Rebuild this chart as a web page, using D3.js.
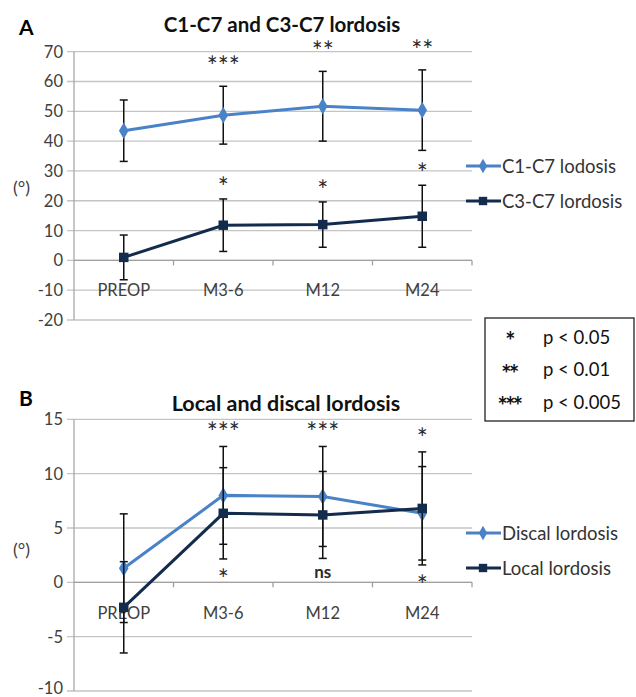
<html>
    <head>
        <title>Lordosis chart</title>
        <style>
            body {
                margin: 0;
                background-color: white;
            }
            text {
                font-family: Lato, "Open Sans", sans-serif;
                fill: #404040;
            }
        </style>
    </head>
    <body>
        <script src="https://d3js.org/d3.v7.min.js"></script>
        <script>

            // --- data ---
            const CATEGORIES = ["PREOP", "M3-6", "M12", "M24"];

            const C1C7_MEAN = [43.5, 48.7, 51.7, 50.4];
            const C1C7_SD = [10.3, 9.7, 11.7, 13.5];
            const C3C7_MEAN = [1.0, 11.8, 12.0, 14.8];
            const C3C7_SD = [7.5, 8.8, 7.6, 10.4];

            const DISCAL_MEAN = [1.3, 8.0, 7.9, 6.35];
            const DISCAL_SD = [5.0, 4.5, 4.6, 4.3];
            const LOCAL_MEAN = [-2.3, 6.35, 6.2, 6.8];
            const LOCAL_SD = [4.2, 4.2, 4.0, 5.2];

            const SIG_A_UPPER = ["", "***", "**", "**"];
            const SIG_A_LOWER = ["", "*", "*", "*"];
            const SIG_B_UPPER = ["", "***", "***", "*"];
            const SIG_B_LOWER = ["", "*", "ns", "*"];

            const P_SYMBOLS = ["*", "**", "***"];
            const P_TEXTS = ["p < 0.05", "p < 0.01", "p < 0.005"];

            const LIGHT = "#4a82c8";
            const DARK = "#132c4d";
            const STAR_FONT = "DejaVu Sans, sans-serif";

            const svg = d3.select("body").append("svg")
                .attr("width", 636).attr("height", 697);
            svg.append("rect").attr("width", 636).attr("height", 697).attr("fill", "white");

            function starCenterShift(label, fs) {
                // distance from baseline to visual centre of the glyphs
                return label === "ns" ? 0.27 * fs : 0.57 * fs;
            }

            function drawPanel(p) {
                const g = svg.append("g");
                const x = d3.scaleBand().domain(CATEGORIES).range([p.left, p.right]);
                const y = d3.scaleLinear().domain(p.domain).range([p.bottom, p.top]);
                const ticks = d3.range(p.domain[0], p.domain[1] + 0.001, p.step);

                // gridlines + left ticks
                g.selectAll("line.grid").data(ticks).join("line")
                    .attr("x1", p.left - 7).attr("x2", p.right)
                    .attr("y1", d => y(d)).attr("y2", d => y(d))
                    .attr("stroke", "#c4c4c4").attr("stroke-width", 1.3);
                g.append("line")
                    .attr("x1", p.left).attr("x2", p.left)
                    .attr("y1", y(p.domain[0])).attr("y2", y(p.domain[1]))
                    .attr("stroke", "#a8a8a8").attr("stroke-width", 1.3);
                g.selectAll("text.ytick").data(ticks).join("text")
                    .attr("x", p.left - 11).attr("y", d => y(d))
                    .attr("dy", (d, i) => i === 0 && p.clipBottom ? "0.2em" : "0.36em")
                    .attr("text-anchor", "end")
                    .attr("font-size", 16.5)
                    .text(d => d);

                // category axis at zero
                g.append("line")
                    .attr("x1", p.left).attr("x2", p.right)
                    .attr("y1", y(0)).attr("y2", y(0))
                    .attr("stroke", "#a0a0a0").attr("stroke-width", 1.3);
                g.selectAll("line.xtick").data(CATEGORIES).join("line")
                    .attr("x1", (d, i) => p.left + x.step() * (i + 1))
                    .attr("x2", (d, i) => p.left + x.step() * (i + 1))
                    .attr("y1", y(0)).attr("y2", y(0) + 5)
                    .attr("stroke", "#a0a0a0").attr("stroke-width", 1.3);
                g.selectAll("text.xlab").data(CATEGORIES).join("text")
                    .attr("x", d => x(d) + x.bandwidth() / 2)
                    .attr("y", p.catY)
                    .attr("dy", "0.36em")
                    .attr("text-anchor", "middle")
                    .attr("font-size", 16.5)
                    .text(d => d);

                // series
                p.series.forEach(s => {
                    const pts = CATEGORIES.map((c, i) => ({ c: c, m: s.mean[i], e: s.sd[i] }));
                    g.append("path")
                        .datum(pts)
                        .attr("fill", "none")
                        .attr("stroke", s.color)
                        .attr("stroke-width", 3)
                        .attr("d", d3.line().x(d => x(d.c) + x.bandwidth() / 2).y(d => y(d.m)));
                    const eb = g.append("g").attr("stroke", "#111").attr("stroke-width", 1.5);
                    pts.forEach(d => {
                        const cx = x(d.c) + x.bandwidth() / 2;
                        eb.append("line").attr("x1", cx).attr("x2", cx)
                            .attr("y1", y(d.m + d.e)).attr("y2", y(d.m - d.e));
                        [d.m + d.e, d.m - d.e].forEach(v => {
                            eb.append("line").attr("x1", cx - 4).attr("x2", cx + 4)
                                .attr("y1", y(v)).attr("y2", y(v));
                        });
                    });
                    g.selectAll(null).data(pts).join("path")
                        .attr("transform", d => "translate(" + (x(d.c) + x.bandwidth() / 2) + "," + y(d.m) + ")")
                        .attr("d", d3.symbol().type(s.marker).size(s.marker === d3.symbolSquare ? 90 : 80))
                        .attr("fill", s.color);
                });

                // significance marks
                p.sig.forEach(row => {
                    row.labels.forEach((lab, i) => {
                        if (!lab) return;
                        let py;
                        if (row.side === "above") {
                            py = d3.min(row.series, s => y(s.mean[i] + s.sd[i])) - row.offset;
                        } else {
                            py = d3.max(row.series, s => y(s.mean[i] - s.sd[i])) + row.offset;
                        }
                        const isNs = lab === "ns";
                        const fs = isNs ? 17 : 26;
                        g.append("text")
                            .attr("x", x(CATEGORIES[i]) + x.bandwidth() / 2)
                            .attr("y", py + starCenterShift(lab, fs))
                            .attr("text-anchor", "middle")
                            .attr("font-family", isNs ? null : STAR_FONT)
                            .attr("font-size", fs)
                            .attr("font-weight", isNs ? "bold" : "normal")
                            .style("fill", "#2a2a2a")
                            .text(lab);
                    });
                });

                // titles
                g.append("text").attr("x", p.titleX).attr("y", p.titleY)
                    .attr("text-anchor", "middle").attr("font-size", p.titleSize).attr("font-weight", "bold")
                    .style("fill", "#111").text(p.title);
                g.append("text").attr("x", 19).attr("y", p.letterY)
                    .attr("font-family", "Liberation Sans, Arial, sans-serif")
                    .attr("font-size", 21).attr("font-weight", "bold")
                    .style("fill", "#000").text(p.letter);
                g.append("text").attr("x", 13).attr("y", p.unitY).attr("dy", "0.36em")
                    .attr("font-size", 18).text("(°)");

                // legend
                p.series.forEach((s, i) => {
                    const ly = p.legendY[i];
                    g.append("line").attr("x1", 466).attr("x2", 501)
                        .attr("y1", ly).attr("y2", ly)
                        .attr("stroke", s.color).attr("stroke-width", 3);
                    g.append("path")
                        .attr("transform", "translate(483," + ly + ")")
                        .attr("d", d3.symbol().type(s.marker).size(s.marker === d3.symbolSquare ? 70 : 60))
                        .attr("fill", s.color);
                    g.append("text").attr("x", 502).attr("y", ly).attr("dy", "0.36em")
                        .attr("font-size", 18.5).style("fill", "#333").text(s.name);
                });
            }

            const c1 = { name: "C1-C7 lodosis", mean: C1C7_MEAN, sd: C1C7_SD, color: LIGHT, marker: d3.symbolDiamond };
            const c3 = { name: "C3-C7 lordosis", mean: C3C7_MEAN, sd: C3C7_SD, color: DARK, marker: d3.symbolSquare };
            const disc = { name: "Discal lordosis", mean: DISCAL_MEAN, sd: DISCAL_SD, color: LIGHT, marker: d3.symbolDiamond };
            const loc = { name: "Local lordosis", mean: LOCAL_MEAN, sd: LOCAL_SD, color: DARK, marker: d3.symbolSquare };

            drawPanel({
                letter: "A", letterY: 35, title: "C1-C7 and C3-C7 lordosis", titleX: 282, titleY: 32, titleSize: 20.5,
                domain: [-20, 70], step: 10, top: 51.7, bottom: 320, left: 74, right: 472,
                catY: 290, unitY: 188, legendY: [166, 201],
                series: [c1, c3],
                sig: [
                    { labels: SIG_A_UPPER, series: [c1], side: "above", offset: 25 },
                    { labels: SIG_A_LOWER, series: [c3], side: "above", offset: 17 }
                ]
            });

            drawPanel({
                letter: "B", letterY: 406, title: "Local and discal lordosis", titleX: 286, titleY: 411, titleSize: 21.5,
                domain: [-10, 15], step: 5, top: 419.3, bottom: 691, left: 74, right: 472,
                catY: 613, unitY: 550, legendY: [533, 568], clipBottom: true,
                series: [disc, loc],
                sig: [
                    { labels: SIG_B_UPPER, series: [disc, loc], side: "above", offset: 19 },
                    { labels: SIG_B_LOWER, series: [disc, loc], side: "below", offset: 15 }
                ]
            });

            // p-value key
            const key = svg.append("g");
            key.append("rect").attr("x", 485).attr("y", 318).attr("width", 149).attr("height", 103)
                .attr("fill", "white").attr("stroke", "#222").attr("stroke-width", 1.3);
            P_SYMBOLS.forEach((sym, i) => {
                const ky = 337 + i * 32.5;
                key.append("text").attr("x", 509).attr("y", ky + 13)
                    .attr("text-anchor", "middle")
                    .attr("font-family", "Liberation Sans, Arial, sans-serif")
                    .attr("font-size", 24).attr("font-weight", "bold")
                    .attr("letter-spacing", -2.5)
                    .style("fill", "#111").text(sym);
                key.append("text").attr("x", 543).attr("y", ky).attr("dy", "0.36em")
                    .attr("font-family", "Liberation Sans, Arial, sans-serif")
                    .attr("font-size", 18.5)
                    .style("fill", "#111").text(P_TEXTS[i]);
            });
        </script>
    </body>
</html>
